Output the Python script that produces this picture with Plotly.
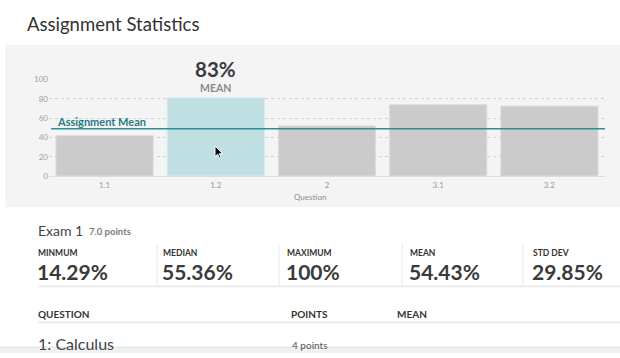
import plotly.graph_objects as go

# ---- data ----
questions = ["1.1", "1.2", "2", "3.1", "3.2"]
question_means = [42, 81, 52, 74, 72.5]
highlight_index = 1
highlight_label = "83%"
assignment_mean = 49
y_ticks = [0, 20, 40, 60, 80, 100]

stat_labels = ["MINMUM", "MEDIAN", "MAXIMUM", "MEAN", "STD DEV"]
stat_values = ["14.29%", "55.36%", "100%", "54.43%", "29.85%"]
table_headers = ["QUESTION", "POINTS", "MEAN"]
table_rows = [["1: Calculus", "4 points"]]

W, H = 620, 358
FONT = "Lato"


def px(x):
    return x / W


def py(y):
    return 1 - y / H


bar_colors = ["#bfdfe3" if i == highlight_index else "#cbcbcb" for i in range(len(questions))]
edge_colors = ["#d6ecef" if i == highlight_index else "#dedede" for i in range(len(questions))]

fig = go.Figure()
fig.add_trace(go.Bar(
    x=questions, y=question_means,
    marker=dict(color=bar_colors, line=dict(color=edge_colors, width=1)),
    hoverinfo="skip",
))

shapes = []
# grey chart panel
shapes.append(dict(type="rect", xref="paper", yref="paper", x0=px(5), x1=1.0,
                   y0=py(208), y1=py(41), fillcolor="#f4f4f4", line=dict(width=0), layer="below"))
# assignment mean line
shapes.append(dict(type="line", xref="paper", yref="y", x0=px(51), x1=px(605),
                   y0=assignment_mean, y1=assignment_mean, line=dict(color="#2f8d96", width=1.5)))
# stats dividers
for xd in [157, 279, 402, 523]:
    shapes.append(dict(type="line", xref="paper", yref="paper", x0=px(xd), x1=px(xd),
                       y0=py(289), y1=py(246), line=dict(color="#e8e8e8", width=1)))
for yl in [289.5, 326.5]:
    shapes.append(dict(type="line", xref="paper", yref="paper", x0=px(38), x1=1.0,
                       y0=py(yl), y1=py(yl), line=dict(color="#e6e6e6", width=1.5)))
# bottom strip
shapes.append(dict(type="rect", xref="paper", yref="paper", x0=0, x1=1.0,
                   y0=0, y1=py(352), fillcolor="#eff0f0", line=dict(width=0)))
shapes.append(dict(type="line", xref="paper", yref="paper", x0=0, x1=1.0,
                   y0=py(352), y1=py(352), line=dict(color="#e2e4e4", width=1)))
# mouse cursor
cx, cy = 215, 145
pts = [(0, 0), (0, 11), (2.6, 8.6), (4.6, 12.8), (6.2, 12.0), (4.3, 8.0), (7.8, 8.0)]
path = "M " + " L ".join(f"{px(cx + a):.5f},{py(cy + b):.5f}" for a, b in pts) + " Z"
shapes.append(dict(type="path", xref="paper", yref="paper", path=path,
                   fillcolor="#111111", line=dict(color="#ffffff", width=1)))

ann = []


def text(x, y, s, size, color, bold=False, xanchor="left", yanchor="middle", xref="paper", yref="paper", family=FONT):
    ann.append(dict(x=x, y=y, xref=xref, yref=yref, text=f"<b>{s}</b>" if bold else s,
                    showarrow=False, xanchor=xanchor, yanchor=yanchor, borderpad=0,
                    font=dict(family=family, size=size, color=color)))


text(px(26), py(20), "Assignment Statistics", 18.5, "#333333")
# category index of the highlighted bar (numeric index avoids "1.2" being read as a number)
text(highlight_index, py(66), highlight_label, 20.5, "#3a3a3a", bold=True, xanchor="center", xref="x")
text(highlight_index, py(85.5), "MEAN", 10.5, "#8a8a8a", bold=True, xanchor="center", xref="x")
ann.append(dict(x=px(56), y=assignment_mean, xref="paper", yref="y", text="<b>Assignment Mean</b>",
                showarrow=False, xanchor="left", yanchor="bottom", borderpad=0,
                font=dict(family=FONT, size=11, color="#1f7c86")))
text(0.5, py(197.5), "Question", 8, "#8c8c8c", xanchor="center", xref="paper")

text(px(37), py(232), "Exam 1", 14, "#444444")
text(px(88), py(233), "7.0 points", 9.5, "#7a7a7a", bold=True)

stat_x = [38, 163, 287, 410, 533]
for xs, lab, val in zip(stat_x, stat_labels, stat_values):
    text(px(xs - 1), py(255.5), lab, 8.5, "#333333", bold=True)
    text(px(xs - 2), py(274), val, 21, "#3a3a3a", bold=True)

header_x = [38, 291, 397]
for xs, h in zip(header_x, table_headers):
    text(px(xs - 1), py(317.5), h, 10, "#333333", bold=True)
for row in table_rows:
    text(px(37), py(348.5), row[0], 16, "#444444")
    text(px(291), py(349.5), row[1], 10, "#555555")

fig.update_layout(
    width=W, height=H,
    margin=dict(l=0, r=0, t=0, b=0),
    paper_bgcolor="#ffffff", plot_bgcolor="rgba(0,0,0,0)",
    showlegend=False, bargap=0.125,
    shapes=shapes, annotations=ann,
    font=dict(family=FONT),
    xaxis=dict(domain=[px(49), px(605)], showgrid=False, showline=True, linecolor="#dcdcdc",
               linewidth=1, ticks="", ticklabelstandoff=1,
               tickfont=dict(family=FONT, size=8, color="#999999"), fixedrange=True),
    yaxis=dict(domain=[py(176), py(76.7)], range=[0, 100], tickvals=y_ticks,
               showgrid=True, gridcolor="#d0d0d0", griddash="dot", gridwidth=1,
               zeroline=False, ticks="", tickfont=dict(family=FONT, size=8, color="#a0a0a0"),
               ticklabelstandoff=0, fixedrange=True),
)

fig.write_html(
    "out.html",
    config={"displayModeBar": False},
    post_script="document.body.style.margin='0';document.body.style.overflow='hidden';",
)
